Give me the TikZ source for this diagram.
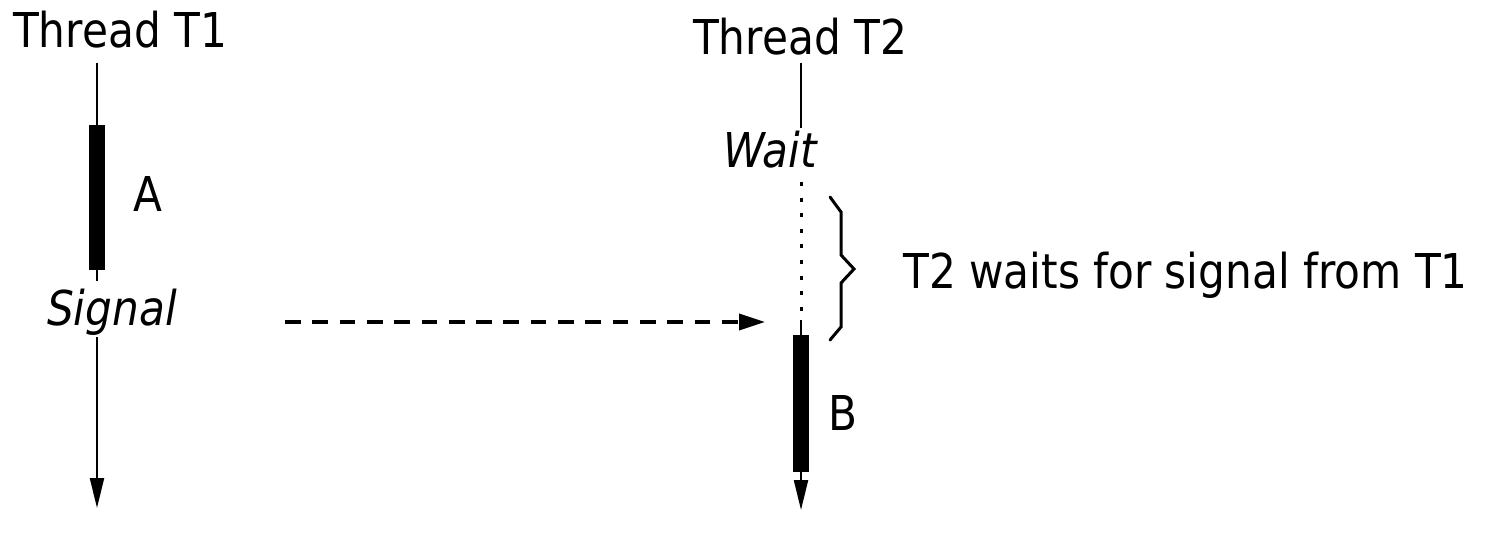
\documentclass[tikz,border=0pt]{standalone}
\usepackage{fontspec}
\setmainfont{DejaVu Sans}[FakeStretch=0.88]
\usetikzlibrary{arrows.meta}
\begin{document}
\begin{tikzpicture}[x=1pt,y=-1pt,
  lbl/.style={font=\fontsize{48}{56}\selectfont, inner sep=0pt, anchor=base},
  evt/.style={font=\fontsize{48}{56}\selectfont\itshape, inner sep=0pt, anchor=base},
  life/.style={line width=2.2pt},
  busy/.style={fill=black},
  endtip/.style={-{Triangle[length=30pt,width=14pt]}},
  waiting/.style={line width=3pt, dash pattern=on 4pt off 11.6pt},
  signal/.style={line width=3.5pt, dash pattern=on 15.7pt off 11.6pt,
    -{Triangle[length=26pt,width=16pt]}},
  brace/.style={line width=3pt, line cap=round, line join=miter}
]
\useasboundingbox (0,0) rectangle (1488,545);

% thread titles
\node[lbl] (t1) at (120,48) {Thread T1};
\node[lbl] (t2) at (800,55) {Thread T2};

% thread T1: work A, then Signal
\coordinate (t1top) at (97,63);
\coordinate (aTop) at (97,125);
\coordinate (aBot) at (97,270);
\coordinate (sigAbove) at (97,281);
\node[evt] (sig) at (112,325) {Signal};
\coordinate (sigBelow) at (97,337);
\coordinate (t1end) at (97,508);
\draw[life] (t1top) -- (aTop);
\fill[busy] ([xshift=-8pt]aTop) rectangle ([xshift=8pt]aBot);
\node[lbl] (a) at (148,212) {A};
\draw[life] (aBot) -- (sigAbove);
\draw[life,endtip] (sigBelow) -- (t1end);

% thread T2: Wait, blocked, then work B
\coordinate (t2top) at (801,63);
\coordinate (waitAbove) at (801,128);
\node[evt] (wait) at (770,168) {Wait};
\coordinate (dotTop) at (801,182);
\coordinate (dotBot) at (801,313);
\coordinate (wakeTop) at (801,320);
\coordinate (bTop) at (801,335);
\coordinate (bBot) at (801,472);
\coordinate (t2end) at (801,510);
\draw[life] (t2top) -- (waitAbove);
\draw[waiting] (dotTop) -- (dotBot);
\draw[life] (wakeTop) -- (bTop);
\fill[busy] ([xshift=-8pt]bTop) rectangle ([xshift=8pt]bBot);
\node[lbl] (b) at (843,430) {B};
\draw[life,endtip] (bBot) -- (t2end);

% signal from T1 to T2
\coordinate (sendFrom) at (285,322);
\coordinate (sendTo) at (765,322);
\draw[signal] (sendFrom) -- (sendTo);

% waiting interval
\coordinate (brTop) at (830,197);
\coordinate (brTip) at (854,269);
\coordinate (brBot) at (830,340);
\draw[brace] (brTop) -- (841,212) -- (841,255) -- (brTip) -- (841,283) -- (841,327) -- (brBot);
\node[lbl, anchor=base west] (note) at (903,288) {T2 waits for signal from T1};
\end{tikzpicture}
\end{document}
